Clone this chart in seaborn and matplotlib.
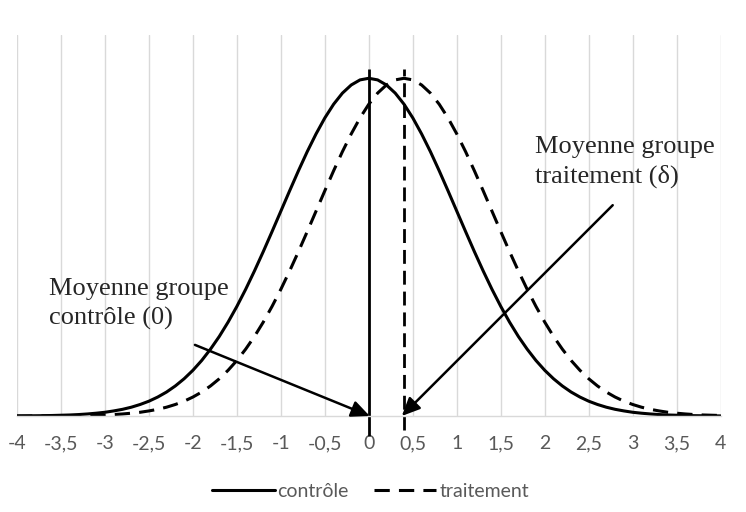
import matplotlib.pyplot as plt
from matplotlib.lines import Line2D
import numpy as np
import pandas as pd
import seaborn as sns

# x grid (step 0.1) and densities
x = np.linspace(-4, 4, 81)
controle = [
    0.0001, 0.0002, 0.0003, 0.0004, 0.0006, 0.0009, 0.0012, 0.0017, 0.0024, 0.0033,
    0.0044, 0.0060, 0.0079, 0.0104, 0.0136, 0.0175, 0.0224, 0.0283, 0.0355, 0.0440,
    0.0540, 0.0656, 0.0790, 0.0940, 0.1109, 0.1295, 0.1497, 0.1714, 0.1942, 0.2179,
    0.2420, 0.2661, 0.2897, 0.3123, 0.3332, 0.3521, 0.3683, 0.3814, 0.3910, 0.3970,
    0.3989,
    0.3970, 0.3910, 0.3814, 0.3683, 0.3521, 0.3332, 0.3123, 0.2897, 0.2661, 0.2420,
    0.2179, 0.1942, 0.1714, 0.1497, 0.1295, 0.1109, 0.0940, 0.0790, 0.0656, 0.0540,
    0.0440, 0.0355, 0.0283, 0.0224, 0.0175, 0.0136, 0.0104, 0.0079, 0.0060, 0.0044,
    0.0033, 0.0024, 0.0017, 0.0012, 0.0009, 0.0006, 0.0004, 0.0003, 0.0002, 0.0001,
]
traitement = [
    0.0000, 0.0000, 0.0001, 0.0001, 0.0001, 0.0002, 0.0003, 0.0004, 0.0006, 0.0009,
    0.0012, 0.0017, 0.0024, 0.0033, 0.0044, 0.0060, 0.0079, 0.0104, 0.0136, 0.0175,
    0.0224, 0.0283, 0.0355, 0.0440, 0.0540, 0.0656, 0.0790, 0.0940, 0.1109, 0.1295,
    0.1497, 0.1714, 0.1942, 0.2179, 0.2420, 0.2661, 0.2897, 0.3123, 0.3332, 0.3521,
    0.3683,
    0.3814, 0.3910, 0.3970, 0.3989, 0.3970, 0.3910, 0.3814, 0.3683, 0.3521, 0.3332,
    0.3123, 0.2897, 0.2661, 0.2420, 0.2179, 0.1942, 0.1714, 0.1497, 0.1295, 0.1109,
    0.0940, 0.0790, 0.0656, 0.0540, 0.0440, 0.0355, 0.0283, 0.0224, 0.0175, 0.0136,
    0.0104, 0.0079, 0.0060, 0.0044, 0.0033, 0.0024, 0.0017, 0.0012, 0.0009, 0.0006,
]
mean_controle = 0.0
mean_traitement = 0.4

tick_values = [-4, -3.5, -3, -2.5, -2, -1.5, -1, -0.5, 0, 0.5, 1, 1.5, 2, 2.5, 3, 3.5, 4]
tick_labels = ["-4", "-3,5", "-3", "-2,5", "-2", "-1,5", "-1", "-0,5", "0",
               "0,5", "1", "1,5", "2", "2,5", "3", "3,5", "4"]

label_controle = "Moyenne groupe\ncontrôle (0)"
label_traitement = "Moyenne groupe\ntraitement (δ)"

sns.set_theme(style="white")
plt.rcParams["font.family"] = ["Lato", "DejaVu Sans"]

df = pd.DataFrame({"x": x, "contrôle": controle, "traitement": traitement})

fig, ax = plt.subplots(figsize=(7.46, 5.12), dpi=100)
fig.subplots_adjust(left=0.0228, right=0.966, bottom=0.1875, top=0.9316)

dash = (0, (5, 3))
sns.lineplot(data=df, x="x", y="contrôle", ax=ax, color="black", lw=2.2)
sns.lineplot(data=df, x="x", y="traitement", ax=ax, color="black", lw=2.2, linestyle=dash)

# mean markers
ax.plot([mean_controle, mean_controle], [-0.0236, 0.41], color="black", lw=2,
        clip_on=False, solid_capstyle="butt")
ax.plot([mean_traitement, mean_traitement], [-0.017, 0.41], color="black", lw=2,
        clip_on=False, linestyle=(0, (5, 2.5)))

ax.set_xlim(-4, 4)
ax.set_ylim(0, 0.45)
ax.set_xticks(tick_values)
ax.set_xticklabels(tick_labels)
ax.set_yticks([])
ax.set_xlabel("")
ax.set_ylabel("")
ax.tick_params(axis="x", length=0, pad=14, labelsize=14, labelcolor="#595959")
ax.grid(axis="x", color="#d9d9d9", lw=1)
for side in ["top", "left", "right"]:
    ax.spines[side].set_visible(False)
ax.spines["bottom"].set_color("#d9d9d9")
ax.spines["bottom"].set_linewidth(1)

arrow = dict(arrowstyle="-|>,head_length=0.55,head_width=0.25", color="black",
             lw=1.8, mutation_scale=20, shrinkA=0, shrinkB=0)
ax.annotate("", xy=(0.01, 0.0), xytext=(-1.977, 0.084), arrowprops=arrow,
            annotation_clip=False)
ax.annotate("", xy=(0.375, 0.0), xytext=(2.773, 0.249), arrowprops=arrow,
            annotation_clip=False)

# baseline of the last line of each label
ax.text(-3.636, 0.1075, label_controle, family="Liberation Serif", fontsize=19,
        va="baseline", ha="left", linespacing=1.41)
ax.text(1.886, 0.2752, label_traitement, family="Liberation Serif", fontsize=19,
        va="baseline", ha="left", linespacing=1.41)

handles = [
    Line2D([], [], color="black", lw=2.2),
    Line2D([], [], color="black", lw=2.2, linestyle=dash),
]
leg = ax.legend(handles, ["contrôle", "traitement"], loc="center",
                bbox_to_anchor=(0.497, 0.041), bbox_transform=fig.transFigure,
                ncol=2, frameon=False, fontsize=14, handlelength=3.2,
                handletextpad=0.15, columnspacing=1.3)
for t in leg.get_texts():
    t.set_color("#595959")

fig.savefig("out.png", dpi=100)
